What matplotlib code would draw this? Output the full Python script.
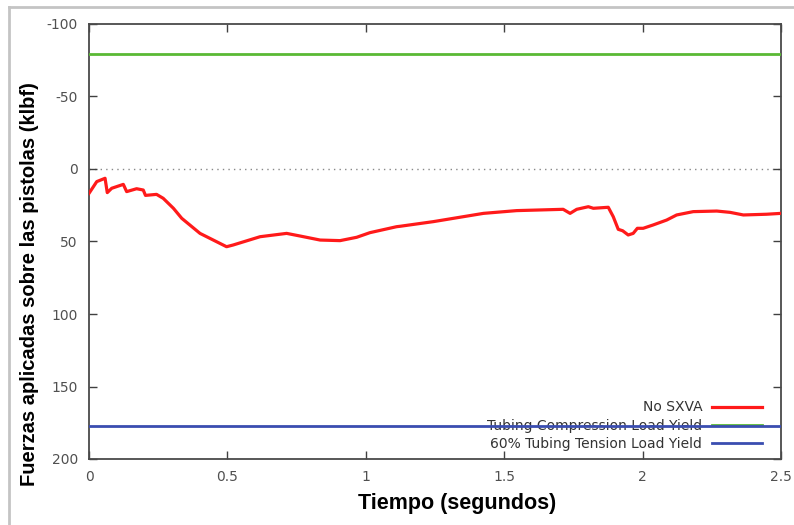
import numpy as np
import matplotlib
matplotlib.use('Agg')
import matplotlib.pyplot as plt
from matplotlib.lines import Line2D

plt.rcParams['axes.unicode_minus'] = False

# Data
tiempo = [0.0, 0.028, 0.058, 0.066, 0.082, 0.124, 0.136, 0.172, 0.196, 0.204,
          0.244, 0.268, 0.305, 0.335, 0.401, 0.497, 0.521, 0.618, 0.714, 0.762,
          0.835, 0.907, 0.967, 1.015, 1.111, 1.124, 1.244, 1.425, 1.545, 1.713,
          1.738, 1.762, 1.804, 1.822, 1.876, 1.894, 1.912, 1.928, 1.948, 1.966,
          1.981, 2.002, 2.038, 2.087, 2.123, 2.183, 2.268, 2.316, 2.364, 2.448, 2.5]
fuerza_no_sxva = [16.8, 8.7, 6.4, 16.3, 13.3, 10.6, 15.6, 13.6, 14.5, 18.2,
                  17.5, 20.2, 27.1, 34.0, 44.4, 53.6, 52.4, 46.7, 44.4, 46.2,
                  49.0, 49.4, 47.1, 43.9, 39.8, 39.5, 36.3, 30.6, 28.7, 27.8,
                  30.6, 27.8, 26.0, 27.1, 26.4, 32.9, 41.6, 42.6, 45.5, 44.4,
                  40.9, 40.9, 38.6, 35.2, 31.7, 29.4, 29.0, 29.9, 31.7, 31.2, 30.6]
compresion_yield = -79
tension_yield_60 = 177

x_ticks = [0, 0.5, 1, 1.5, 2, 2.5]
x_tick_labels = ['0', '0.5', '1', '1.5', '2', '2.5']
y_ticks = [-100, -50, 0, 50, 100, 150, 200]

fig = plt.figure(figsize=(7.94, 5.25), dpi=100)
ax = fig.add_axes([89/794, 66/525, 692/794, 435/525])

# light grey frame of the original image
fig.add_artist(Line2D([9/794, 9/794], [0, 1 - 7/525], transform=fig.transFigure,
                      color='#c4c4c4', lw=2))
fig.add_artist(Line2D([9/794, 1], [1 - 7/525, 1 - 7/525], transform=fig.transFigure,
                      color='#c4c4c4', lw=2))

ax.axhline(0, ls=(0, (1, 3)), color='#888888', lw=1, zorder=1)
ax.plot(tiempo, fuerza_no_sxva, color='#ff1a1a', lw=2.3, label='No SXVA', zorder=3)
ax.axhline(compresion_yield, color='#5ab934', lw=2,
           label='Tubing Compression Load Yield', zorder=3)
ax.axhline(tension_yield_60, color='#3a4db0', lw=2,
           label='60% Tubing Tension Load Yield', zorder=4)

ax.set_xlim(0, 2.5)
ax.set_ylim(200, -100)
ax.set_xticks(x_ticks)
ax.set_xticklabels(x_tick_labels)
ax.set_yticks(y_ticks)

ax.tick_params(direction='in', length=6, width=1, top=True, right=True,
               labelsize=10, labelcolor='#505050', color='#404040', pad=8)
for s in ax.spines.values():
    s.set_color('#4a4a4a')
    s.set_linewidth(1.3)

ax.set_xlabel('Tiempo (segundos)', fontsize=15.5, fontweight='bold',
              family='Liberation Sans')
ax.xaxis.set_label_coords(0.5325, -0.078)
ax.set_ylabel('Fuerzas aplicadas sobre las pistolas (klbf)', fontsize=14.5,
              fontweight='bold', family='Liberation Sans')
ax.yaxis.set_label_coords(-0.072, 0.402)

leg = ax.legend(loc='lower right', bbox_to_anchor=(0.9725, 0.019), frameon=False,
                markerfirst=False, handlelength=3.6, handletextpad=0.7,
                labelspacing=0.3, borderpad=0, borderaxespad=0, fontsize=10)
for t in leg.get_texts():
    t.set_color('#333333')
leg.set_zorder(2.5)

fig.savefig('out.png', dpi=100)
